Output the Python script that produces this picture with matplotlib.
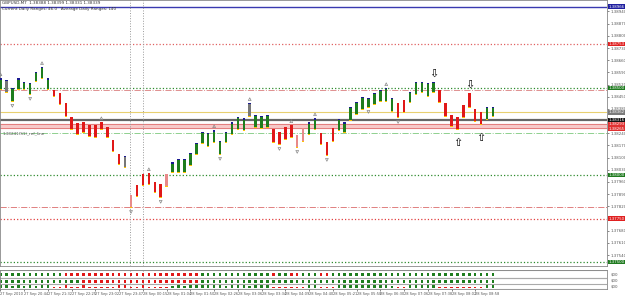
import matplotlib
matplotlib.use("Agg")
import matplotlib.pyplot as plt
import numpy as np

# range bars (high / low of the body), colour code per bar
bar_hi = [1.38557, 1.38546, 1.38500, 1.38557, 1.38535, 1.38529, 1.38592, 1.38621, 1.38557, 1.38489,
          1.38471, 1.38414, 1.38333, 1.38299, 1.38304, 1.38287, 1.38287, 1.38304, 1.38276, 1.38201,
          1.38120, 1.38109, 1.37885, 1.37943, 1.38006, 1.38011, 1.37960, 1.37948, 1.38006, 1.38074,
          1.38092, 1.38092, 1.38126, 1.38184, 1.38247, 1.38241, 1.38258, 1.38195, 1.38247, 1.38304,
          1.38333, 1.38327, 1.38414, 1.38345, 1.38339, 1.38345, 1.38264, 1.38247, 1.38276, 1.38287,
          1.38230, 1.38270, 1.38304, 1.38327, 1.38241, 1.38189, 1.38270, 1.38322, 1.38304, 1.38391,
          1.38420, 1.38448, 1.38443, 1.38471, 1.38489, 1.38500, 1.38443, 1.38414, 1.38431, 1.38477,
          1.38535, 1.38535, 1.38529, 1.38535, 1.38489, 1.38414, 1.38345, 1.38333, 1.38402, 1.38471,
          1.38379, 1.38362, 1.38391, 1.38391]
bar_lo = [1.38489, 1.38471, 1.38420, 1.38489, 1.38489, 1.38460, 1.38535, 1.38552, 1.38489, 1.38448,
          1.38402, 1.38333, 1.38258, 1.38230, 1.38241, 1.38218, 1.38212, 1.38258, 1.38212, 1.38132,
          1.38057, 1.38040, 1.37810, 1.37874, 1.37937, 1.37943, 1.37897, 1.37868, 1.37931, 1.38011,
          1.38011, 1.38011, 1.38051, 1.38115, 1.38178, 1.38161, 1.38184, 1.38115, 1.38184, 1.38230,
          1.38258, 1.38253, 1.38333, 1.38270, 1.38264, 1.38270, 1.38184, 1.38172, 1.38201, 1.38212,
          1.38155, 1.38189, 1.38230, 1.38258, 1.38172, 1.38109, 1.38189, 1.38253, 1.38241, 1.38310,
          1.38345, 1.38374, 1.38385, 1.38402, 1.38420, 1.38420, 1.38362, 1.38327, 1.38356, 1.38414,
          1.38460, 1.38471, 1.38448, 1.38471, 1.38414, 1.38333, 1.38276, 1.38258, 1.38327, 1.38385,
          1.38304, 1.38287, 1.38316, 1.38333]
bar_col = ("gkggggggg" + "rrrrrrrrrrrr" + "k" + "p" + "rrrrr" + "p" + "ggggggggggggg" + "k" + "ggg"
           + "rrrr" + "pp" + "gg" + "rrr" + "gggggggggg" + "rr" + "ggggg" + "rrrrrrrr" + "gg")

# fractals and signal arrows (bar index)
frac_up = [0, 7, 17, 25, 36, 42, 49, 53, 65]
frac_dn = [2, 5, 22, 27, 37, 47, 50, 55, 62, 67]
sig_dn = [73, 79]
sig_up = [77, 81]

# indicator rows at the bottom
row1 = "g" * 11 + "r" * 23 + "g" * 12 + "r" + "gg" + "rr" + "ggg" + "rr" + "g" * 28
row2 = "g" * 14 + "r" * 20 + "g" * 50
row3 = ("GGgGgGgGG" + "rrRrrRrrrrrRRrrRrrrr" + "gGgGG" + "GGGGgGGGgGGG" + "rrrrrr" + "GG" + "rrr"
        + "GGGGGGGGGg" + "rr" + "GGGGG" + "rrrrrrrr" + "GG")

# horizontal levels: price, colour, style, width
levels = [(1.38966, "#3a3ab0", "-", 1.0), (1.38753, "#e06060", ":", 0.9), (1.38500, "#2e8b2e", ":", 0.9),
          (1.38489, "#e09090", "-.", 0.7), (1.38362, "#e8d070", "-", 0.8), (1.38316, "#666666", "-", 1.6),
          (1.38293, "#e07070", "-", 0.6), (1.38270, "#e07070", "-", 0.6), (1.38241, "#8fd08f", "-.", 0.7),
          (1.38000, "#2e8b2e", ":", 0.9), (1.37816, "#e08080", "-.", 0.7), (1.37750, "#e04040", ":", 0.9),
          (1.37500, "#2e8b2e", ":", 0.9)]
price_boxes = [(1.38966, "1.38966", "#2020a0"), (1.38753, "1.38753", "#e02020"), (1.38500, "1.38500", "#1f7a1f"),
               (1.38362, "1.38362", "#7a7a7a"), (1.38316, "1.38316", "#111111"), (1.38293, "1.38293", "#e03030"),
               (1.38265, "1.38265", "#e03030"), (1.38000, "1.38000", "#1f7a1f"), (1.37750, "1.37750", "#e02020"),
               (1.37500, "1.37500", "#1f7a1f")]
tick_prices = [1.38940, 1.38870, 1.38800, 1.38730, 1.38660, 1.38590, 1.38520, 1.38450, 1.38380, 1.38240,
               1.38170, 1.38100, 1.38030, 1.37960, 1.37890, 1.37820, 1.37680, 1.37610, 1.37540]
day_lines = [21.8, 24.0]
time_labels = ["27 Sep 2010", "27 Sep 20:44", "27 Sep 21:32", "27 Sep 22:25", "27 Sep 23:02", "27 Sep 23:47",
               "28 Sep 00:15", "28 Sep 01:04", "28 Sep 01:50", "28 Sep 02:26", "28 Sep 03:06", "28 Sep 03:34",
               "28 Sep 04:09", "28 Sep 04:40", "28 Sep 05:21", "28 Sep 05:58", "28 Sep 06:30", "28 Sep 07:06",
               "28 Sep 07:38", "28 Sep 08:02", "28 Sep 08:58"]

W, H = 625, 296
def px(x0, y0, x1, y1):
    return [x0 / W, 1 - y1 / H, (x1 - x0) / W, (y1 - y0) / H]

fig = plt.figure(figsize=(6.25, 2.96), dpi=100)
ax = fig.add_axes(px(0, 0, 607, 266))
ind = fig.add_axes(px(0, 270, 607, 289))

xs = np.arange(len(bar_hi))
hi = np.array(bar_hi)
lo = np.array(bar_lo)
cmap = {"g": "#1e7d1e", "r": "#e01818", "p": "#e88a8a", "k": "#777777"}
cols = [cmap[c] for c in bar_col]
cap = 0.00008
bw = 0.42

for p, c, ls, lw in levels:
    ax.axhline(p, color=c, ls=ls, lw=lw, zorder=1)
ax.axhspan(1.38270, 1.38293, color="#f6c8c8", zorder=0.5)
for d in day_lines:
    ax.axvline(d, color="#999999", ls=":", lw=0.7, zorder=1)
    ind.axvline(d, color="#999999", ls=":", lw=0.7, zorder=1)

ax.bar(xs, hi - lo, bottom=lo, width=bw, color=cols, zorder=3)
up = np.array([c in "gk" for c in bar_col])
ax.bar(xs[up], cap, bottom=hi[up] - cap, width=bw, color="#1a1a90", zorder=4)
ax.bar(xs, cap, bottom=lo, width=bw, color="#ffc400", zorder=4)

ax.scatter(xs[frac_up], hi[frac_up] + 0.00022, marker="^", s=4, facecolors="none",
           edgecolors="#888888", linewidths=0.5, zorder=4)
ax.scatter(xs[frac_dn], lo[frac_dn] - 0.00022, marker="v", s=4, facecolors="none",
           edgecolors="#888888", linewidths=0.5, zorder=4)
for i in sig_dn:
    ax.text(i, hi[i] + 0.00018, "\u21e9", ha="center", va="bottom", fontsize=8, color="black", zorder=5)
for i in sig_up:
    ax.text(i, lo[i] - 0.00045, "\u21e7", ha="center", va="top", fontsize=8, color="black", zorder=5)

ax.set_xlim(-0.08, 102.2)
ax.set_ylim(1.37477, 1.39006)
ax.set_xticks([])
ax.yaxis.tick_right()
ax.set_yticks(tick_prices)
ax.set_yticklabels([f"{p:.5f}" for p in tick_prices])
ax.tick_params(axis="y", labelsize=2.8, length=1.2, width=0.5, pad=1, colors="#555555")
for s in ax.spines.values():
    s.set_color("#888888")
    s.set_linewidth(0.6)
for p, t, fc in price_boxes:
    ax.text(1.002, p, t, transform=ax.get_yaxis_transform(), fontsize=2.8, color="white",
            va="center", ha="left", bbox=dict(boxstyle="square,pad=0.12", fc=fc, ec="none"), zorder=6)

ax.text(0.003, 0.995, "GBPUSD,M7  1.38388 1.38399 1.38331 1.38339", transform=ax.transAxes,
        fontsize=3.0, va="top", ha="left", color="#333333")
ax.text(0.003, 0.972, "Current Daily Ranges: 46.0   Average Daily Ranges: 140", transform=ax.transAxes,
        fontsize=3.0, va="top", ha="left", color="#333333")
ax.text(0.3, 1.38241, "1.38241(S1)_ref_line", fontsize=3.0, va="center", ha="left", color="#555555", zorder=5)

# indicator panel
rc = {"g": "#1e7d1e", "G": "#1e7d1e", "r": "#e01818", "R": "#e01818"}
rh = {"g": 2.5, "G": 4.0, "r": 1.5, "R": 3.0}
ind.bar(xs, 3, bottom=2.5, width=bw, color=[rc[c] for c in row1])
ind.bar(xs, 3, bottom=9.5, width=bw, color=[rc[c] for c in row2])
h3 = np.array([rh[c] for c in row3])
ind.bar(xs, h3, bottom=18 - h3, width=bw, color=[rc[c] for c in row3])
for yl in [0.3, 7.5, 8.3, 14.3, 18.8]:
    ind.axhline(yl, color="#aaaaaa", lw=0.8)
ind.set_xlim(-0.08, 102.2)
ind.set_ylim(19, 0)
ind.set_yticks([])
ind.set_xticks(np.arange(0, 84, 4))
ind.set_xticklabels(time_labels, ha="left")
ind.tick_params(axis="x", labelsize=2.6, length=1.2, width=0.5, pad=1, colors="#555555")
for s in ind.spines.values():
    s.set_color("#888888")
    s.set_linewidth(0.6)
for yy in [4, 11, 16.5]:
    ind.text(1.006, yy, "$00", transform=ind.get_yaxis_transform(), fontsize=2.8,
             va="center", ha="left", color="#555555")

fig.savefig("out.png", dpi=100, facecolor="white")
